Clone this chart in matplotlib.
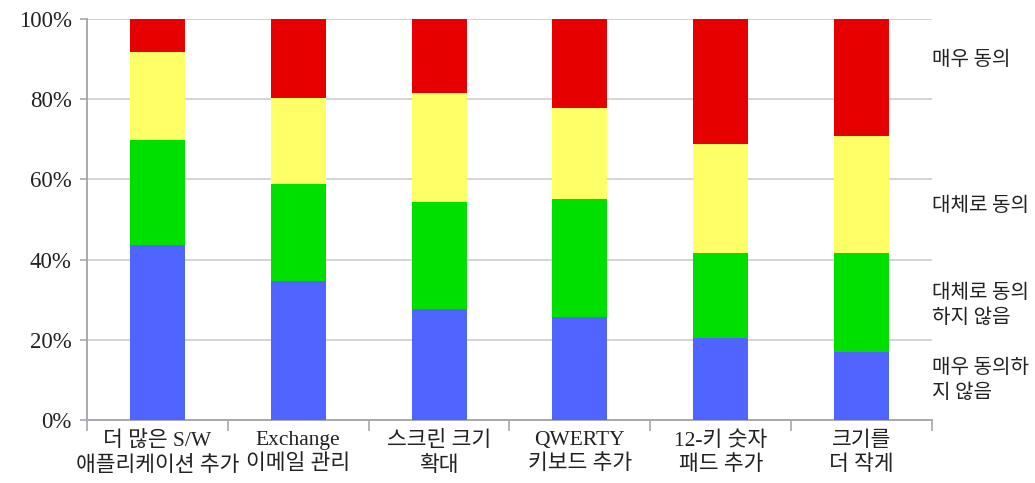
"""Stacked percentage bars: agreement levels for phone feature requests."""

import matplotlib.pyplot as plt
import numpy as np

categories = [
    "더 많은 S/W\n애플리케이션 추가",
    "Exchange\n이메일 관리",
    "스크린 크기\n확대",
    "QWERTY\n키보드 추가",
    "12-키 숫자\n패드 추가",
    "크기를\n더 작게",
]
series_labels = ["매우 동의하\n지 않음", "대체로 동의\n하지 않음", "대체로 동의", "매우 동의"]
strongly_disagree = [43.6, 34.7, 27.7, 25.8, 20.4, 17.0]
somewhat_disagree = [26.2, 24.2, 26.7, 29.2, 21.2, 24.6]
somewhat_agree = [21.9, 21.4, 27.2, 22.8, 27.2, 29.3]
strongly_agree = [8.3, 19.7, 18.4, 22.2, 31.2, 29.1]
yticks = [0, 20, 40, 60, 80, 100]

colors = ["#5064FF", "#00E000", "#FFFF66", "#E60000"]
label_y = [10, 28.7, 53.6, 89.8]

SERIF = ["Liberation Serif", "Noto Sans CJK KR"]
KOREAN = ["Noto Sans CJK KR", "DejaVu Sans"]

fig = plt.figure(figsize=(10.35, 4.83), dpi=100)
ax = fig.add_axes([0.084, 0.1304, 0.8165, 0.8303])

x = np.arange(len(categories))
bottom = np.zeros(len(categories))
for values, color in zip(
    [strongly_disagree, somewhat_disagree, somewhat_agree, strongly_agree], colors
):
    ax.bar(x, values, width=0.39, bottom=bottom, color=color, zorder=3)
    bottom += np.array(values)

ax.set_xlim(-0.5, len(categories) - 0.5)
ax.set_ylim(0, 100)

# gridlines and axes
ax.set_yticks(yticks)
ax.set_yticklabels([f"{t}%" for t in yticks], family=SERIF, fontsize=16.5, color="#222222")
ax.yaxis.grid(True, color="#D4D4D4", linewidth=1.4, zorder=0)
ax.tick_params(axis="y", length=5, color="#A8A8B8", width=1.2, pad=6)

ax.set_xticks(x)
ax.set_xticklabels(categories, family=SERIF, fontsize=15.5, color="#222222", linespacing=1.3)
ax.set_xticks(np.arange(len(categories) + 1) - 0.5, minor=True)
ax.tick_params(axis="x", which="major", length=0, pad=8)
ax.tick_params(axis="x", which="minor", length=8, color="#A8A8A8", width=1.2)

for side in ["top", "right"]:
    ax.spines[side].set_visible(False)
for side in ["left", "bottom"]:
    ax.spines[side].set_color("#A8A8B0")
    ax.spines[side].set_linewidth(1.4)

# series labels on the right
for label, y in zip(series_labels, label_y):
    ax.text(1.0, y, label, transform=ax.get_yaxis_transform(),
            ha="left", va="center", family=KOREAN, fontsize=14.5, color="#222222",
            linespacing=1.3)

fig.savefig("out.png", dpi=100)
